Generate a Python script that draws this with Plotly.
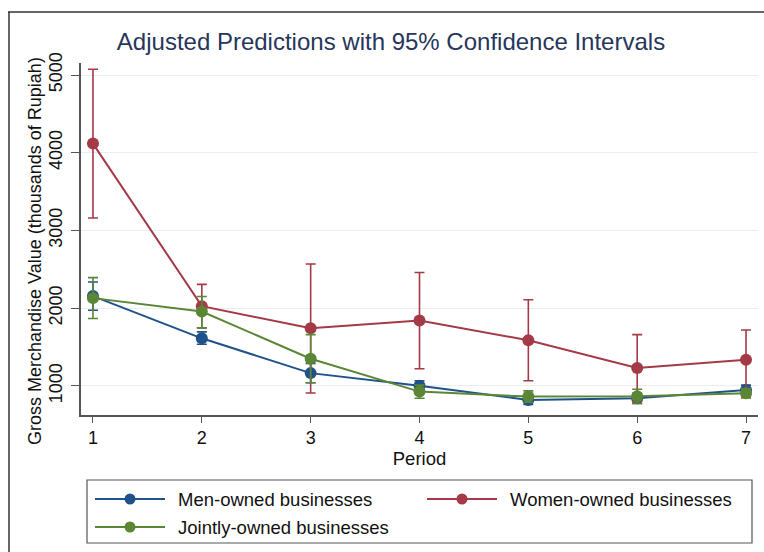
import plotly.graph_objects as go

# Adjusted predictions of gross merchandise value by period and owner gender
periods = [1, 2, 3, 4, 5, 6, 7]

men_pred = [2155, 1612, 1164, 1000, 819, 840, 948]
men_lo = [1974, 1535, 1040, 935, 760, 775, 885]
men_hi = [2336, 1695, 1290, 1065, 880, 905, 1010]

women_pred = [4118, 2026, 1741, 1841, 1587, 1230, 1336]
women_lo = [3160, 1746, 909, 1220, 1065, 800, 950]
women_hi = [5075, 2306, 2569, 2458, 2108, 1660, 1718]

joint_pred = [2129, 1957, 1349, 926, 862, 866, 905]
joint_lo = [1867, 1746, 1040, 840, 790, 775, 845]
joint_hi = [2393, 2150, 1660, 1010, 935, 957, 965]

series_names = ["Men-owned businesses", "Women-owned businesses", "Jointly-owned businesses"]
series_colors = ["#1f528a", "#a53a47", "#5a8636"]

y_ticks = [1000, 2000, 3000, 4000, 5000]

FONT = "Liberation Sans, Arial, Helvetica, sans-serif"

# figure geometry (pixels)
W, H = 764, 552
ML, MR, MT, MB = 81, 6, 63, 137
PW, PH = W - ML - MR, H - MT - MB


def px_x(px):
    return (px - ML) / PW


def px_y(py):
    return (H - MB - py) / PH


fig = go.Figure()

for name, color, pred, lo, hi in zip(
    series_names,
    series_colors,
    [men_pred, women_pred, joint_pred],
    [men_lo, women_lo, joint_lo],
    [men_hi, women_hi, joint_hi],
):
    fig.add_trace(
        go.Scatter(
            x=periods,
            y=pred,
            name=name,
            mode="lines+markers",
            line=dict(color=color, width=2),
            marker=dict(color=color, size=12),
            error_y=dict(
                type="data",
                symmetric=False,
                array=[h - p for h, p in zip(hi, pred)],
                arrayminus=[p - l for p, l in zip(pred, lo)],
                color=color,
                thickness=1.6,
                width=5,
            ),
            showlegend=False,
        )
    )

shapes = []
annotations = []

# outer frame around the graph region (left and top edges)
frame_color = "#333333"
shapes.append(dict(type="line", xref="paper", yref="paper",
                   x0=px_x(9), x1=px_x(9), y0=px_y(12), y1=px_y(552),
                   line=dict(color=frame_color, width=1.5)))
shapes.append(dict(type="line", xref="paper", yref="paper",
                   x0=px_x(8), x1=px_x(764), y0=px_y(12), y1=px_y(12),
                   line=dict(color=frame_color, width=1.5)))

# y-axis title, set beside the rotated tick labels
annotations.append(dict(xref="paper", yref="paper",
                        x=px_x(35), y=px_y(251),
                        xanchor="center", yanchor="middle",
                        text="Gross Merchandise Value (thousands of Rupiah)",
                        textangle=-90, showarrow=False,
                        font=dict(family=FONT, size=18, color="#111111")))

# legend box below the plot: two columns, two rows
shapes.append(dict(type="rect", xref="paper", yref="paper",
                   x0=px_x(87), x1=px_x(752), y0=px_y(480), y1=px_y(543),
                   line=dict(color="#555555", width=1.2), fillcolor="white"))

legend_slots = [(95, 499), (427, 499), (95, 527)]
for (lx, ly), name, color in zip(legend_slots, series_names, series_colors):
    shapes.append(dict(type="line", xref="paper", yref="paper",
                       x0=px_x(lx), x1=px_x(lx + 70), y0=px_y(ly), y1=px_y(ly),
                       line=dict(color=color, width=2)))
    shapes.append(dict(type="circle", xref="paper", yref="paper",
                       xsizemode="pixel", ysizemode="pixel",
                       xanchor=px_x(lx + 35), yanchor=px_y(ly),
                       x0=-5.5, x1=5.5, y0=-5.5, y1=5.5,
                       line=dict(color=color, width=0), fillcolor=color))
    annotations.append(dict(xref="paper", yref="paper",
                            x=px_x(lx + 81), y=px_y(ly),
                            xanchor="left", yanchor="middle",
                            text=name, showarrow=False,
                            font=dict(family=FONT, size=18.5, color="#111111")))

fig.update_layout(
    width=W,
    height=H,
    margin=dict(l=ML, r=MR, t=MT, b=MB),
    paper_bgcolor="white",
    plot_bgcolor="white",
    font=dict(family=FONT, size=18, color="#111111"),
    title=dict(
        text="Adjusted Predictions with 95% Confidence Intervals",
        x=391 / W,
        xref="container",
        xanchor="center",
        y=1 - 42 / H,
        yref="container",
        yanchor="middle",
        font=dict(family=FONT, size=24, color="#27365a"),
    ),
    xaxis=dict(
        range=[0.89, 7.11],
        tickvals=periods,
        showgrid=False,
        zeroline=False,
        showline=True,
        linecolor="#555555",
        linewidth=1.5,
        ticks="outside",
        ticklen=6,
        tickcolor="#555555",
        tickfont=dict(size=18),
        title=dict(text="Period", font=dict(size=18.5), standoff=4),
    ),
    yaxis=dict(
        range=[625, 5155],
        tickvals=y_ticks,
        tickangle=-90,
        showgrid=True,
        gridcolor="#eaeeee",
        gridwidth=1,
        zeroline=False,
        showline=True,
        linecolor="#555555",
        linewidth=1.5,
        ticks="outside",
        ticklen=8,
        tickcolor="#555555",
        tickfont=dict(size=18),
        ticklabelstandoff=2,
    ),
    shapes=shapes,
    annotations=annotations,
    showlegend=False,
)

fig.write_html("out.html", config={"displayModeBar": False})
